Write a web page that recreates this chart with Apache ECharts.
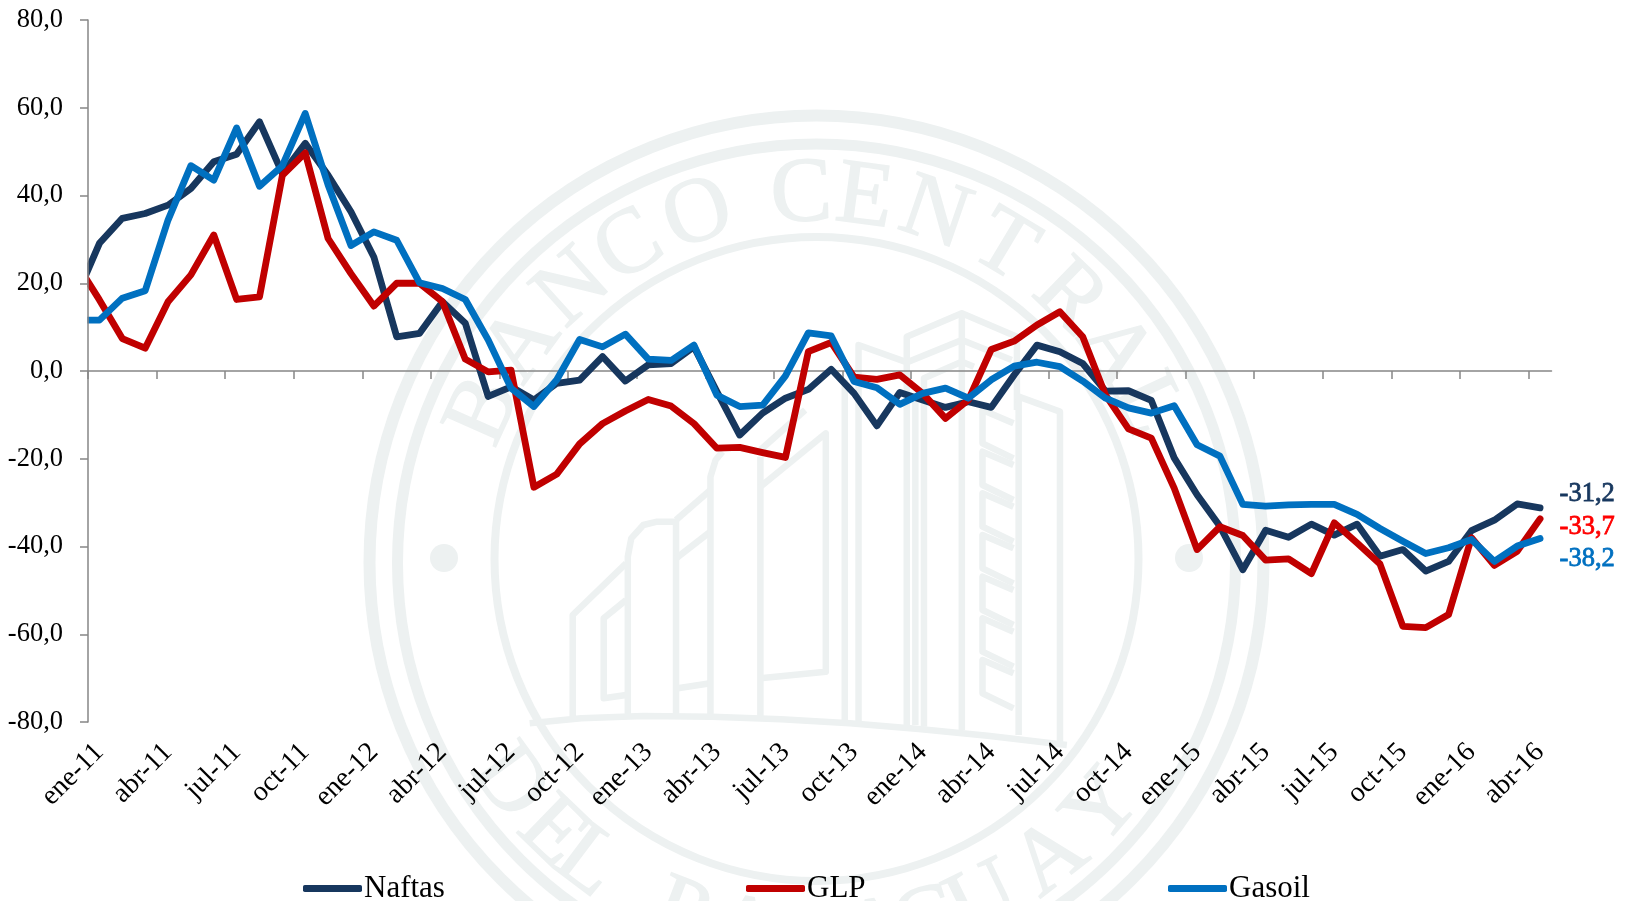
<!DOCTYPE html>
<html><head><meta charset="utf-8">
<style>html,body{margin:0;padding:0;background:#fff}#c{width:1629px;height:901px}</style>
<script src="https://cdn.jsdelivr.net/npm/echarts@6/dist/echarts.min.js"></script>
</head><body><div id="c"></div>
<script>
// first entry (dic-10) lies left of the axis: the source line enters the plot already moving
const categories = ['dic-10','ene-11','feb-11','mar-11','abr-11','may-11','jun-11','jul-11','ago-11','sep-11','oct-11','nov-11','dic-11',
'ene-12','feb-12','mar-12','abr-12','may-12','jun-12','jul-12','ago-12','sep-12','oct-12','nov-12','dic-12',
'ene-13','feb-13','mar-13','abr-13','may-13','jun-13','jul-13','ago-13','sep-13','oct-13','nov-13','dic-13',
'ene-14','feb-14','mar-14','abr-14','may-14','jun-14','jul-14','ago-14','sep-14','oct-14','nov-14','dic-14',
'ene-15','feb-15','mar-15','abr-15','may-15','jun-15','jul-15','ago-15','sep-15','oct-15','nov-15','dic-15',
'ene-16','feb-16','mar-16','abr-16'];
const naftas = [17,29.1,34.8,35.9,37.8,41.6,47.7,49.4,56.8,45,51.9,44.6,36.3,26,7.8,8.6,15.8,10.9,-5.8,-3.6,-6.6,
-2.8,-2.1,3.3,-2.3,1.4,1.7,5.5,-4.7,-14.6,-9.6,-6.2,-4.2,0.4,-5.1,-12.5,-4.9,-6.6,-8.3,-7,-8.3,-0.9,5.9,4.4,1.7,
-4.6,-4.5,-6.7,-19.8,-28.2,-35.4,-45.3,-36.3,-37.9,-34.9,-37.4,-34.9,-42.2,-40.7,-45.6,-43.4,-36.4,-34,-30.3,-31.2];
const glp = [24.5,16.2,7.4,5.2,15.8,21.9,31,16.3,16.9,44.6,49.7,30.2,22.2,14.8,20,20,15.8,2.7,-0.2,0.2,-26.5,
-23.5,-16.6,-12,-9.1,-6.5,-8,-12,-17.6,-17.4,-18.6,-19.7,4.4,6.5,-1.4,-1.9,-0.9,-5.1,-10.8,-6.6,4.9,6.8,10.5,13.5,7.8,
-5.5,-13.2,-15.3,-26.7,-40.7,-35.5,-37.5,-43.1,-42.8,-46.2,-34.6,-39.2,-44,-58.2,-58.5,-55.5,-38,-44.3,-41.1,-33.7];
const gasoil = [11.6,11.6,16.6,18.3,34.4,46.8,43.5,55.4,42.1,46.8,58.7,42.4,28.6,31.7,29.8,20.1,18.8,16.3,7.1,-3.9,-8.1,
-2,7.2,5.5,8.4,2.7,2.4,5.9,-5.5,-8.1,-7.8,-1.1,8.7,8,-2.4,-3.8,-7.6,-5.1,-3.9,-6.2,-2,1.1,2,1,-2.3,
-6.2,-8.4,-9.6,-7.9,-16.8,-19.4,-30.4,-30.8,-30.5,-30.4,-30.4,-32.7,-35.9,-38.8,-41.6,-40.3,-38.4,-43.4,-39.9,-38.2];
const seriesNames = ['Naftas','GLP','Gasoil'];

const FONT = '"Liberation Serif", serif';
const WM = '#edf1f1';
const cx = 816.5, cy = 559;
const fmt = v => v.toFixed(1).replace('.', ',');

// watermark seal
function wmRing(y, r, w){ return {type:'circle', z:-5, silent:true, shape:{cx,cy:y,r}, style:{fill:'none',stroke:WM,lineWidth:w}}; }
function wmDot(x,y){ return {type:'circle', z:-5, silent:true, shape:{cx:x,cy:y,r:14}, style:{fill:WM}}; }
function wmLetter(ch, deg, bottom){
  const a = deg*Math.PI/180, r = bottom ? 381 : 363;
  const x = cx + r*Math.sin(a);
  const y = bottom ? cy + r*Math.cos(a) : cy - r*Math.cos(a);
  return {type:'text', z:-5, silent:true, x, y, rotation: bottom ? a : -a,
    style:{text:ch, fill:WM, stroke:WM, lineWidth:1.5, font:'92px "Liberation Serif", serif', align:'center', verticalAlign:'middle'}};
}
const topLetters = [['B',-66],['A',-54],['N',-42],['C',-31],['O',-19],['C',-2.4],['E',7.6],['N',19],['T',31],['R',44],['A',55],['L',65]];
const botLetters = [['D',-54],['E',-44],['L',-37],['P',-21],['A',-11],['R',-1],['A',9],['G',17],['U',26],['A',38],['Y',49]];
// building outline, in a local sketch space
const bx = x => 540 + x/2.904, by = y => 300 + y/3;
function wmLine(pts, w){ return {type:'polyline', z:-5, silent:true,
  shape:{points:pts.map(p=>[bx(p[0]),by(p[1])])}, style:{fill:'none',stroke:WM,lineWidth:w||6.5,lineJoin:'round'}}; }
const buildingLines = [
 [[95,1250],[95,945],[250,790]],
 [[250,900],[185,955],[185,1195],[250,1185]],
 [[255,1250],[255,770],[265,715],[300,675],[340,665],[395,665],[395,1250]],
 [[395,660],[495,570]],[[395,775],[495,695]],[[400,1165],[495,1150]],
 [[495,1250],[495,530],[510,480],[530,455]],
 [[640,1250],[640,470]],[[640,560],[830,400],[830,1115],[640,1135]],[[640,450],[770,330]],
 [[885,1260],[885,240]],[[925,1265],[925,135],[1060,185]],
 [[1065,1275],[1065,110],[1225,40],[1385,110],[1385,330]],
 [[1090,1275],[1090,290]],[[1115,1280],[1115,235],[1225,185],[1260,200]],
 [[1225,1290],[1225,40]],
 [[1390,1305],[1390,290],[1510,335],[1510,1325]],
 [[1070,185],[1225,120],[1370,180]]
];
for (let y = 400; y < 1250; y += 125) {
  buildingLines.push([[1375,y-30],[1285,y-70],[1285,y+30],[1375,y+75]]);
}
// base curve
buildingLines.push([[-30,1270],[120,1255],[300,1248],[500,1250],[700,1258],[900,1270],[1100,1287],[1300,1307],[1530,1335]]);

const graphicEls = [wmRing(562.5,447,12), wmRing(563,419,11), wmRing(559,322,8), wmDot(444,558), wmDot(1189,558)]
  .concat(topLetters.map(l=>wmLetter(l[0],l[1],false)))
  .concat(botLetters.map(l=>wmLetter(l[0],l[1],true)))
  .concat(buildingLines.map(l=>wmLine(l)));
// the source lines stop exactly at the value axis
graphicEls.push({type:'rect', z:3, zlevel:1, silent:true, shape:{x:78,y:258,width:9.4,height:74}, style:{fill:'#fff'}});

const colors = {Naftas:'#17375e', GLP:'#c00000', Gasoil:'#0070c0'};
const labelColors = {Naftas:'#17375e', GLP:'#ff0000', Gasoil:'#0070c0'};
const values = {Naftas:naftas, GLP:glp, Gasoil:gasoil};
const endOffsets = {Naftas:[19.5,-13.5], GLP:[19.5,8.5], Gasoil:[19.5,20.5]};
const AXIS = '#868686';
const nBands = categories.length - 1;
const tickPositions = [];
for (let i = 0; i < nBands; i += 3) tickPositions.push(i);

const chart = echarts.init(document.getElementById('c'), null, {renderer:'canvas'});
chart.setOption({
  animation:false,
  backgroundColor:'#fff',
  graphic:{elements:graphicEls},
  textStyle:{fontFamily:FONT},
  grid:{left:88, right:77.5, top:20, bottom:179, containLabel:false},
  xAxis:[
    {type:'value', min:0, max:nBands, position:'bottom',
     axisLine:{show:true,onZero:true,lineStyle:{color:AXIS,width:1.5}},
     axisTick:{show:true,length:8,lineStyle:{color:AXIS,width:1.5},customValues:tickPositions},
     axisLabel:{show:false}, splitLine:{show:false}},
    {type:'category', data:categories, min:1, boundaryGap:true, position:'bottom',
     axisLine:{show:false,onZero:false}, axisTick:{show:false}, splitLine:{show:false},
     axisLabel:{show:true, rotate:45, margin:26, interval:(i)=>(i-1)%3===0, color:'#000',
       fontFamily:FONT, fontSize:28, hideOverlap:false}}
  ],
  yAxis:{type:'value', min:-80, max:80, interval:20, z:5, zlevel:1,
     axisLine:{show:true,onZero:false,lineStyle:{color:AXIS,width:1.5}},
     axisTick:{show:true,length:8,lineStyle:{color:AXIS,width:1.5}},
     axisLabel:{margin:25,color:'#000',fontFamily:FONT,fontSize:26.5,formatter:fmt},
     splitLine:{show:false}},
  legend:[
    {data:['Naftas'], left:303},{data:['GLP'], left:746},{data:['Gasoil'], left:1168}
  ].map(l=>Object.assign(l,{top:873,itemWidth:59,itemHeight:7,icon:'roundRect',
     selectedMode:false,padding:0,textStyle:{fontFamily:FONT,fontSize:31,color:'#000',padding:[0,0,0,-3]}})),
  series:seriesNames.map(n=>({
    name:n, type:'line', xAxisIndex:1, yAxisIndex:0, data:values[n], clip:true,
    showSymbol:false, symbol:'none', smooth:false,
    lineStyle:{color:colors[n],width:6.8,join:'round',cap:'round'},
    itemStyle:{color:colors[n]},
    endLabel:{show:true, formatter:p=>fmt(p.value), offset:endOffsets[n], distance:0,
      color:labelColors[n], fontFamily:FONT, fontSize:26.5, textBorderColor:labelColors[n], textBorderWidth:0.8}
  }))
});
</script></body></html>
